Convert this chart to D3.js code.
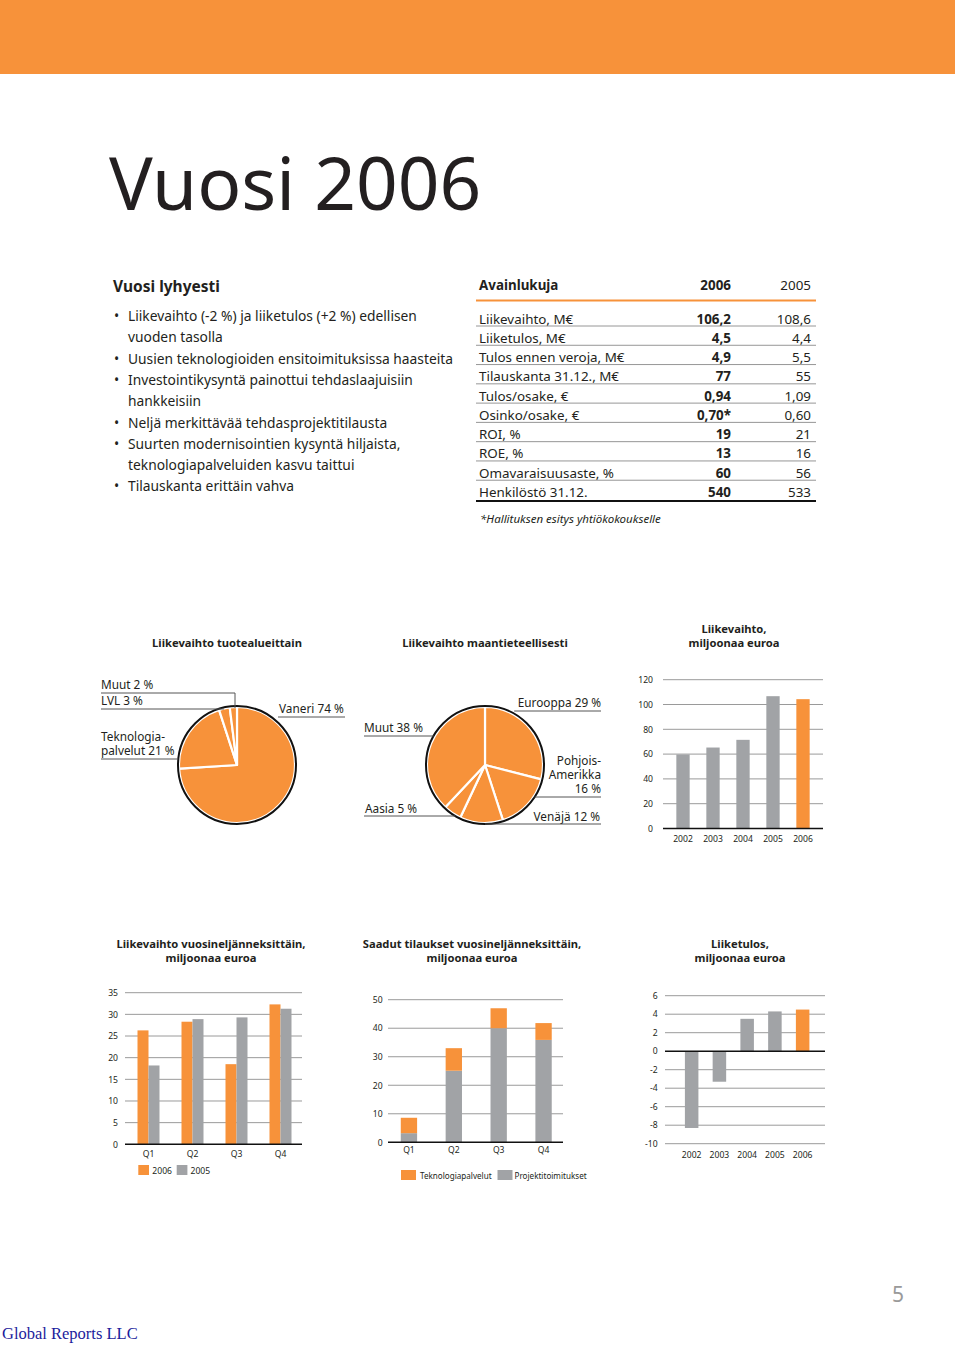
<!DOCTYPE html>
<html><head><meta charset="utf-8">
<script src="https://cdn.jsdelivr.net/npm/d3@7/dist/d3.min.js"></script>
<style>
body{margin:0;background:#fff;}
svg{display:block;font-family:"Noto Sans",sans-serif;}
</style></head>
<body>
<script>
// ---------- DATA ----------
const pageTitle = "Vuosi 2006";
const summaryTitle = "Vuosi lyhyesti";
const summaryLines = [
  ["•","Liikevaihto (-2 %) ja liiketulos (+2 %) edellisen"],
  ["","vuoden tasolla"],
  ["•","Uusien teknologioiden ensitoimituksissa haasteita"],
  ["•","Investointikysyntä painottui tehdaslaajuisiin"],
  ["","hankkeisiin"],
  ["•","Neljä merkittävää tehdasprojektitilausta"],
  ["•","Suurten modernisointien kysyntä hiljaista,"],
  ["","teknologiapalveluiden kasvu taittui"],
  ["•","Tilauskanta erittäin vahva"]
];
const tableHeader = ["Avainlukuja","2006","2005"];
const tableLabels = ["Liikevaihto, M€","Liiketulos, M€","Tulos ennen veroja, M€","Tilauskanta 31.12., M€","Tulos/osake, €","Osinko/osake, €","ROI, %","ROE, %","Omavaraisuusaste, %","Henkilöstö 31.12."];
const table2006 = ["106,2","4,5","4,9","77","0,94","0,70*","19","13","60","540"];
const table2005 = ["108,6","4,4","5,5","55","1,09","0,60","21","16","56","533"];
const tableNote = "*Hallituksen esitys yhtiökokoukselle";

const productLabels = ["Vaneri 74 %","Teknologia-|palvelut 21 %","LVL 3 %","Muut 2 %"];
const productShares = [74,21,3,2];
const geoLabels = ["Eurooppa 29 %","Pohjois-|Amerikka|16 %","Venäjä 12 %","Aasia 5 %","Muut 38 %"];
const geoShares = [29,16,12,5,38];

const years = ["2002","2003","2004","2005","2006"];
const revenue = [59.7,65.3,71.5,106.7,104.3];
const revenueTicks = [0,20,40,60,80,100,120];

const quarters = ["Q1","Q2","Q3","Q4"];
const seriesYears = ["2006","2005"];
const quarterRev2006 = [26.3,28.3,18.5,32.3];
const quarterRev2005 = [18.2,28.9,29.3,31.3];
const quarterRevTicks = [0,5,10,15,20,25,30,35];

const orderSeries = ["Teknologiapalvelut","Projektitoimitukset"];
const ordersTech = [5.4,7.9,7.0,5.9];
const ordersProj = [3.2,25.1,40.0,35.9];
const orderTicks = [0,10,20,30,40,50];

const ebit = [-8.3,-3.3,3.5,4.3,4.5];
const ebitTicks = [6,4,2,0,-2,-4,-6,-8,-10];

const chartTitles = {
  prod:["Liikevaihto tuotealueittain"],
  geo:["Liikevaihto maantieteellisesti"],
  rev:["Liikevaihto,","miljoonaa euroa"],
  qrev:["Liikevaihto vuosineljänneksittäin,","miljoonaa euroa"],
  ord:["Saadut tilaukset vuosineljänneksittäin,","miljoonaa euroa"],
  ebit:["Liiketulos,","miljoonaa euroa"]
};

// ---------- STYLE ----------
const ORANGE = "#f7923a", GRAY = "#a1a3a6", TXT = "#231f20", GRID="#9a9a9a";

const svg = d3.select("body").append("svg").attr("width",960).attr("height",1347);

// header band
svg.append("rect").attr("x",0).attr("y",0).attr("width",955).attr("height",74).attr("fill",ORANGE);

svg.append("text").attr("x",109).attr("y",210).attr("font-size",73).attr("fill",TXT).text(pageTitle);

// summary
svg.append("text").attr("x",113).attr("y",292).attr("font-size",15.5).attr("font-weight","bold").attr("fill",TXT).text(summaryTitle);
summaryLines.forEach((l,i)=>{
  const y = 321 + i*21.3;
  if(l[0]) svg.append("text").attr("x",114).attr("y",y).attr("font-size",13.8).attr("fill",TXT).text(l[0]);
  svg.append("text").attr("x",128).attr("y",y).attr("font-size",13.8).attr("fill",TXT).text(l[1]);
});

// table
const tX0=476,tX1=816, cL=479, c1=731, c2=811, TF=13.4;
svg.append("text").attr("x",cL).attr("y",290).attr("font-size",TF).attr("font-weight","bold").attr("fill",TXT).text(tableHeader[0]);
svg.append("text").attr("x",c1).attr("y",290).attr("font-size",TF).attr("font-weight","bold").attr("text-anchor","end").attr("fill",TXT).text(tableHeader[1]);
svg.append("text").attr("x",c2).attr("y",290).attr("font-size",TF).attr("text-anchor","end").attr("fill",TXT).text(tableHeader[2]);
svg.append("line").attr("x1",tX0).attr("x2",tX1).attr("y1",300.5).attr("y2",300.5).attr("stroke",ORANGE).attr("stroke-width",2);
const rowY = d3.scaleLinear().domain([0,9]).range([323.5,497]);
tableLabels.forEach((lab,i)=>{
  const y=rowY(i);
  svg.append("text").attr("x",cL).attr("y",y).attr("font-size",TF).attr("fill",TXT).text(lab);
  svg.append("text").attr("x",c1).attr("y",y).attr("font-size",TF).attr("font-weight","bold").attr("text-anchor","end").attr("fill",TXT).text(table2006[i]);
  svg.append("text").attr("x",c2).attr("y",y).attr("font-size",TF).attr("text-anchor","end").attr("fill",TXT).text(table2005[i]);
  const last = i===tableLabels.length-1;
  svg.append("line").attr("x1",tX0).attr("x2",tX1).attr("y1",y+(last?4:2.5)).attr("y2",y+(last?4:2.5))
    .attr("stroke",last?"#111":"#8a8a8a").attr("stroke-width",last?2:0.9);
});
svg.append("text").attr("x",480).attr("y",523).attr("font-size",11.5).attr("font-style","italic").attr("fill",TXT).text(tableNote);

// chart titles
function title(lines,cx,yLast){
  lines.forEach((t,i)=>{
    svg.append("text").attr("x",cx).attr("y",yLast-(lines.length-1-i)*14.5).attr("text-anchor","middle")
      .attr("font-size",11.2).attr("font-weight","bold").attr("fill",TXT).text(t);
  });
}
title(chartTitles.prod,227,647);
title(chartTitles.geo,485,647);
title(chartTitles.rev,734,647);
title(chartTitles.qrev,211,962);
title(chartTitles.ord,472,962);
title(chartTitles.ebit,740,962);

// ---------- PIES ----------
function pie(values, cx, cy, r){
  const g = svg.append("g").attr("transform",`translate(${cx},${cy})`);
  const arcs = d3.pie().sort(null)(values);
  const arc = d3.arc().innerRadius(0).outerRadius(r);
  g.selectAll("path").data(arcs).join("path").attr("d",arc).attr("fill",ORANGE).attr("stroke","#fff").attr("stroke-width",2.2).attr("stroke-linejoin","round");
  g.append("circle").attr("r",r+1).attr("fill","none").attr("stroke","#111").attr("stroke-width",2);
  return arcs;
}
function edgeX(cx,cy,r,y,side){ const dy=y-cy; return cx + side*Math.sqrt(Math.max(0,r*r-dy*dy)); }
function label(lines,x,yFirst,anchor){
  const parts = lines.split("|");
  const t = svg.append("text").attr("font-size",11.8).attr("text-anchor",anchor).attr("fill",TXT);
  parts.forEach((p,i)=>{
    t.append("tspan").attr("x",x).attr("y",yFirst+i*14.2).text(p);
  });
}
function lead(pts){ svg.append("polyline").attr("points",pts.map(p=>p.join(",")).join(" ")).attr("fill","none").attr("stroke","#555").attr("stroke-width",1); }

const P1={cx:237,cy:765,r:58};
pie(productShares,P1.cx,P1.cy,P1.r);
label(productLabels[0],279,713,"start"); lead([[278,717],[345,717]]);
label(productLabels[1],101,741,"start"); lead([[101,759],[edgeX(P1.cx,P1.cy,P1.r+1,759,-1),759]]);
label(productLabels[2],101,705,"start"); lead([[101,709],[edgeX(P1.cx,P1.cy,P1.r,709,-1)+2,709]]);
label(productLabels[3],101,689,"start"); lead([[101,693],[235,693],[235,708]]);

const P2={cx:485,cy:765,r:58};
pie(geoShares,P2.cx,P2.cy,P2.r);
label(geoLabels[0],601,707,"end"); lead([[edgeX(P2.cx,P2.cy,P2.r,711,1)+8,711],[601,711]]);
label(geoLabels[1],601,765,"end"); lead([[edgeX(P2.cx,P2.cy,P2.r+1,797,1),797],[601,797]]);
label(geoLabels[2],600,821,"end"); lead([[edgeX(P2.cx,P2.cy,P2.r+1,824,1),824],[601,824]]);
label(geoLabels[3],365,813,"start"); lead([[364,816],[edgeX(P2.cx,P2.cy,P2.r+1,816,-1),816]]);
label(geoLabels[4],364,732,"start"); lead([[364,736],[edgeX(P2.cx,P2.cy,P2.r+1,736,-1),736]]);

// ---------- BAR CHART HELPERS ----------
function grid(y, ticks, x0, x1, zero){
  svg.append("g").selectAll("line").data(ticks.filter(t=>t!==zero)).join("line")
    .attr("x1",x0).attr("x2",x1).attr("y1",d=>y(d)).attr("y2",d=>y(d)).attr("stroke",GRID).attr("stroke-width",1);
}
function zeroLine(y,x0,x1,zero){
  svg.append("line").attr("x1",x0).attr("x2",x1).attr("y1",y(zero)).attr("y2",y(zero)).attr("stroke","#111").attr("stroke-width",1.6);
}
function yAxis(y,ticks,xRight){
  const g = svg.append("g").attr("transform",`translate(${xRight},0)`)
    .call(d3.axisLeft(y).tickValues(ticks).tickSize(0).tickPadding(0).tickFormat(d=>String(d)));
  g.select(".domain").remove();
  g.selectAll("text").attr("font-family","Noto Sans").attr("font-size",8.6).attr("fill",TXT);
}
function xAxis(x,yBase){
  const g = svg.append("g").attr("transform",`translate(0,${yBase})`)
    .call(d3.axisBottom(x).tickSize(0).tickPadding(0));
  g.select(".domain").remove();
  g.selectAll("text").attr("font-family","Noto Sans").attr("font-size",8.6).attr("fill",TXT).attr("dy","0").attr("y",0);
}

// Chart: revenue by year
{
  const y = d3.scaleLinear().domain([0,120]).range([828.5,679.7]);
  const x = d3.scaleBand().domain(years).range([668,818]).paddingInner(0.556).paddingOuter(0.278);
  grid(y,revenueTicks,663,823,0);
  svg.append("g").selectAll("rect").data(years).join("rect")
    .attr("x",d=>x(d)).attr("width",x.bandwidth()).attr("y",(d,i)=>y(revenue[i])).attr("height",(d,i)=>y(0)-y(revenue[i]))
    .attr("fill",(d,i)=>i===years.length-1?ORANGE:GRAY);
  zeroLine(y,663,823,0);
  yAxis(y,revenueTicks,653);
  xAxis(x,841.5);
}

// Chart: revenue by quarter
{
  const y = d3.scaleLinear().domain([0,35]).range([1144.3,992.7]);
  const x = d3.scaleBand().domain(quarters).range([126.5,302.5]).paddingInner(0.5).paddingOuter(0.25);
  const xs = d3.scaleBand().domain(seriesYears).range([0,x.bandwidth()]);
  const vals = {"2006":quarterRev2006,"2005":quarterRev2005};
  const col = d3.scaleOrdinal().domain(seriesYears).range([ORANGE,GRAY]);
  grid(y,quarterRevTicks,125,302,0);
  const gq = svg.append("g").selectAll("g").data(quarters).join("g").attr("transform",d=>`translate(${x(d)},0)`);
  gq.selectAll("rect").data((q,qi)=>seriesYears.map(s=>({s,v:vals[s][qi]}))).join("rect")
    .attr("x",d=>xs(d.s)).attr("width",xs.bandwidth()).attr("y",d=>y(d.v)).attr("height",d=>y(0)-y(d.v)).attr("fill",d=>col(d.s));
  zeroLine(y,125,302,0);
  yAxis(y,quarterRevTicks,118);
  xAxis(x,1156.5);
  const lg = [[138.3,152.3],[176.7,190.5]];
  seriesYears.forEach((s,i)=>{
    svg.append("rect").attr("x",lg[i][0]).attr("y",1165).attr("width",10.7).attr("height",10).attr("fill",col(s));
    svg.append("text").attr("x",lg[i][1]).attr("y",1173.5).attr("font-size",8.6).attr("fill",TXT).text(s);
  });
}

// Chart: orders stacked
{
  const y = d3.scaleLinear().domain([0,50]).range([1142.3,999.7]);
  const x = d3.scaleBand().domain(quarters).range([386.5,566]).paddingInner(0.636).paddingOuter(0.318);
  grid(y,orderTicks,388,563,0);
  const rows = quarters.map((q,i)=>({q,Projektitoimitukset:ordersProj[i],Teknologiapalvelut:ordersTech[i]}));
  const stack = d3.stack().keys(["Projektitoimitukset","Teknologiapalvelut"])(rows);
  const col = d3.scaleOrdinal().domain(orderSeries).range([ORANGE,GRAY]);
  svg.append("g").selectAll("g").data(stack).join("g").attr("fill",d=>col(d.key))
    .selectAll("rect").data(d=>d).join("rect")
    .attr("x",d=>x(d.data.q)).attr("width",x.bandwidth()).attr("y",d=>y(d[1])).attr("height",d=>y(d[0])-y(d[1]));
  zeroLine(y,388,563,0);
  yAxis(y,orderTicks,382.7);
  xAxis(x,1153);
  const lg = [[401,420],[497.5,514.5]];
  orderSeries.forEach((s,i)=>{
    svg.append("rect").attr("x",lg[i][0]).attr("y",1170).attr("width",15).attr("height",10).attr("fill",col(s));
    svg.append("text").attr("x",lg[i][1]).attr("y",1178.5).attr("font-size",8.1).attr("fill",TXT).text(s);
  });
}

// Chart: EBIT
{
  const y = d3.scaleLinear().domain([-10,6]).range([1143.7,995.7]);
  const x = d3.scaleBand().domain(years).range([677.8,816.5]).paddingInner(0.513).paddingOuter(0.256);
  grid(y,ebitTicks,665,825,0);
  svg.append("g").selectAll("rect").data(years).join("rect")
    .attr("x",d=>x(d)).attr("width",x.bandwidth())
    .attr("y",(d,i)=>y(Math.max(0,ebit[i]))).attr("height",(d,i)=>Math.abs(y(ebit[i])-y(0)))
    .attr("fill",(d,i)=>i===years.length-1?ORANGE:GRAY);
  zeroLine(y,665,825,0);
  yAxis(y,ebitTicks,657.7);
  xAxis(x,1158);
}

// page number & footer
svg.append("text").attr("x",898).attr("y",1302).attr("font-size",21).attr("text-anchor","middle").attr("fill","#9a9a9a").text("5");
svg.append("text").attr("x",2).attr("y",1339).attr("font-family","Liberation Serif, serif").attr("font-size",16.5).attr("fill","#1c1c9c").text("Global Reports LLC");
</script>
</body></html>
